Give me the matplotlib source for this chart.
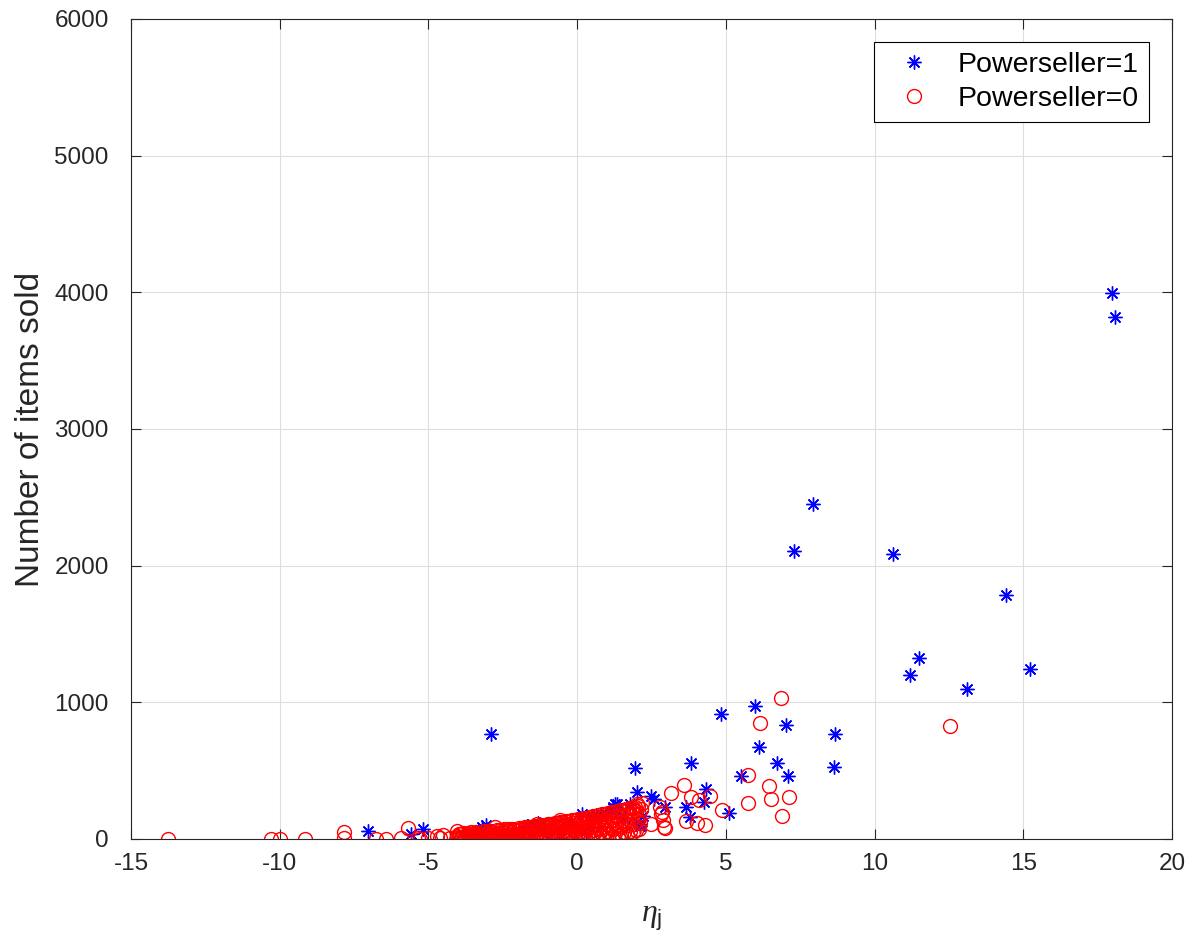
import matplotlib
matplotlib.use("Agg")
import matplotlib.pyplot as plt
import numpy as np

plt.rcParams["font.family"] = ["Liberation Sans", "DejaVu Sans"]
plt.rcParams["mathtext.fontset"] = "custom"
plt.rcParams["mathtext.it"] = "Liberation Serif:italic"
plt.rcParams["mathtext.rm"] = "Liberation Sans"
plt.rcParams["axes.unicode_minus"] = False

# === Powerseller=1 (blue asterisks) ===
eta_ps1 = [17.99, 18.09, 7.92, 7.30, 10.62, 14.43, 11.48, 11.19, 15.23, 13.11,
           5.98, 4.85, 7.02, 8.66, 6.11, 6.72, 8.64, 7.10, 5.50, -2.91,
           1.93, 3.84, 5.10, 4.33, 4.27, 3.66, 3.79, 2.48, 2.22, 2.02,
           2.95, 2.11, 1.35, 1.21, 0.15, 1.27, -1.33, -3.16, -1.65, -0.24,
           0.65, 0.99, 1.30, 2.10, 2.60, 1.77, 1.16, 0.80, 0.50,
           -7.03, -5.57, -5.18, -3.21, -3.05, -1.70, -1.25,
           -2.50, -1.00, 0.30, 0.80, 1.60, -3.60, -0.60]
sold_ps1 = [3994, 3819, 2448, 2110, 2088, 1785, 1327, 1197, 1244, 1100,
            976, 914, 837, 766, 673, 556, 527, 459, 459, 768,
            522, 556, 188, 369, 271, 234, 161, 315, 168, 344,
            234, 93, 259, 234, 186, 254, 117, 76, 93, 124,
            173, 186, 210, 110, 295, 259, 198, 180, 170,
            58, 39, 76, 88, 100, 93, 113,
            30, 50, 60, 90, 150, 20, 40]

# === Powerseller=0 (red circles), sparse tails ===
eta_ps0_tail = [-13.76, -10.28, -10.00, -9.15, -7.85, -7.85, -6.75, -6.41, -5.91, -5.68,
                -5.36, -5.29, -5.00, -4.72, -4.62, -4.51, -4.28, -4.05, -2.75, -1.36,
                -0.97, -0.58,
                2.47, 2.78, 2.84, 2.89, 2.93, 2.95, 2.81, 3.15, 3.58, 3.67,
                3.82, 4.03, 4.11, 4.31, 4.48, 4.86, 5.73, 5.74, 6.16, 6.45,
                6.51, 6.86, 6.90, 7.11, 12.54, 2.17, 2.00, 1.88]
sold_ps0_tail = [3, 3, 3, 3, 51, 5, 2, 2, 4, 78,
                 10, 3, 5, 20, 4, 30, 6, 60, 88, 113,
                 113, 137,
                 113, 234, 198, 137, 88, 83, 181, 336, 395, 132,
                 307, 117, 283, 100, 317, 212, 471, 266, 851, 386,
                 296, 1029, 166, 307, 824, 266, 259, 225]

# === Powerseller=0, dense core (-4 < eta < 2.2) ===
eta_ps0_core = [
    -4.02, -3.98, -4.04, -3.97, -3.91, -3.88, -3.93, -3.86, -3.81, -3.78, -3.83, -3.77,
    -3.72, -3.68, -3.71, -3.66, -3.61, -3.58, -3.63, -3.57, -3.52, -3.48, -3.51, -3.46,
    -3.42, -3.38, -3.41, -3.36, -3.31, -3.28, -3.33, -3.27, -3.22, -3.18, -3.21, -3.16,
    -3.12, -3.08, -3.11, -3.06, -3.02, -2.98, -3.01, -2.96, -2.92, -2.88, -2.91, -2.86,
    -2.82, -2.78, -2.81, -2.76, -2.72, -2.68, -2.71, -2.66, -2.62, -2.58, -2.61, -2.56,
    -2.52, -2.48, -2.51, -2.46, -2.42, -2.38, -2.41, -2.36, -2.32, -2.28, -2.31, -2.26,
    -2.22, -2.18, -2.21, -2.16, -2.12, -2.08, -2.11, -2.06, -2.02, -1.98, -2.01, -1.96,
    -1.92, -1.88, -1.91, -1.86, -1.82, -1.78, -1.81, -1.76, -1.72, -1.68, -1.71, -1.66,
    -1.62, -1.58, -1.61, -1.56, -1.52, -1.48, -1.51, -1.46, -1.42, -1.38, -1.41, -1.36,
    -1.32, -1.28, -1.31, -1.26, -1.22, -1.18, -1.21, -1.16, -1.12, -1.08, -1.11, -1.06,
    -1.02, -0.98, -1.01, -0.96, -0.92, -0.88, -0.91, -0.86, -0.82, -0.78, -0.81, -0.76,
    -0.72, -0.68, -0.71, -0.66, -0.62, -0.58, -0.61, -0.56, -0.52, -0.48, -0.51, -0.46,
    -0.42, -0.38, -0.41, -0.36, -0.32, -0.28, -0.31, -0.26, -0.22, -0.18, -0.21, -0.16,
    -0.12, -0.08, -0.11, -0.06, -0.02, 0.02, -0.01, 0.04, 0.08, 0.12, 0.09, 0.14,
    0.18, 0.22, 0.19, 0.24, 0.28, 0.32, 0.29, 0.34, 0.38, 0.42, 0.39, 0.44,
    0.48, 0.52, 0.49, 0.54, 0.58, 0.62, 0.59, 0.64, 0.68, 0.72, 0.69, 0.74,
    0.78, 0.82, 0.79, 0.84, 0.88, 0.92, 0.89, 0.94, 0.98, 1.02, 0.99, 1.04,
    1.08, 1.12, 1.09, 1.14, 1.18, 1.22, 1.19, 1.24, 1.28, 1.32, 1.29, 1.34,
    1.38, 1.42, 1.39, 1.44, 1.48, 1.52, 1.49, 1.54, 1.58, 1.62, 1.59, 1.64,
    1.68, 1.72, 1.69, 1.74, 1.78, 1.82, 1.79, 1.84, 1.88, 1.92, 1.89, 1.94,
    1.98, 2.02, 1.99, 2.04, 2.08, 2.12, 2.09, 2.14]
sold_ps0_core = [
    3, 12, 25, 40, 5, 18, 33, 8, 2, 15, 42, 25,
    6, 20, 33, 45, 4, 10, 28, 48, 3, 22, 40, 14,
    7, 30, 50, 18, 2, 12, 44, 25, 5, 28, 54, 16,
    9, 35, 56, 22, 3, 18, 44, 60, 6, 25, 62, 38,
    4, 14, 52, 32, 8, 30, 64, 20, 3, 42, 66, 15,
    7, 25, 50, 70, 5, 18, 42, 72, 10, 32, 58, 74,
    4, 22, 50, 76, 8, 40, 64, 28, 3, 15, 55, 80,
    6, 35, 68, 83, 12, 28, 58, 85, 4, 45, 72, 88,
    9, 22, 62, 90, 5, 38, 78, 93, 14, 30, 65, 96,
    6, 48, 82, 99, 10, 25, 70, 102, 4, 42, 88, 105,
    12, 55, 78, 108, 7, 35, 92, 111, 15, 60, 84, 114,
    5, 45, 98, 118, 18, 70, 92, 121, 8, 40, 104, 125,
    20, 65, 95, 128, 6, 50, 110, 132, 25, 75, 104, 136,
    10, 55, 116, 140, 30, 80, 112, 144, 12, 60, 122, 148,
    35, 90, 128, 152, 15, 70, 118, 156, 40, 95, 138, 160,
    18, 65, 128, 165, 45, 100, 142, 170, 20, 75, 132, 175,
    50, 110, 152, 180, 25, 80, 138, 185, 12, 60, 128, 190,
    35, 90, 158, 195, 18, 70, 142, 200, 45, 105, 168, 205,
    25, 80, 152, 210, 35, 95, 178, 215, 50, 120, 168, 220,
    40, 100, 186, 225, 60, 130, 180, 230, 50, 110, 194, 234,
    65, 140, 204, 238, 70, 120, 184, 218]

eta_ps0 = eta_ps0_tail + eta_ps0_core
sold_ps0 = sold_ps0_tail + sold_ps0_core

xticks = [-15, -10, -5, 0, 5, 10, 15, 20]
yticks = [0, 1000, 2000, 3000, 4000, 5000, 6000]

fig = plt.figure(figsize=(12.02, 9.48), dpi=100)
ax = fig.add_axes([0.109, 0.115, 0.866, 0.865])

asterisk = (8, 2, 0)
ax.plot(eta_ps1, sold_ps1, linestyle="none", marker=asterisk, color=(0, 0, 1),
        markersize=10, markeredgewidth=1.0, label="Powerseller=1")
ax.plot(eta_ps0, sold_ps0, linestyle="none", marker="o", markerfacecolor="none",
        markeredgecolor=(1, 0, 0), markersize=10, markeredgewidth=1.0,
        label="Powerseller=0")

ax.set_xlim(-15, 20)
ax.set_ylim(0, 6000)
ax.set_xticks(xticks)
ax.set_yticks(yticks)
ax.grid(True, color="#dedede", linewidth=0.8)
ax.set_axisbelow(True)

dark = "#262626"
for s in ax.spines.values():
    s.set_color(dark)
    s.set_linewidth(0.8)
ax.tick_params(direction="in", length=7, width=0.8, colors=dark, labelsize=17.5,
               top=True, right=True)
ax.tick_params(axis="x", pad=10)
ax.tick_params(axis="y", pad=16)

ax.set_xlabel(r"$\mathit{\eta}_{\mathrm{j}}$", fontsize=23, color=dark, labelpad=20)
ax.set_ylabel("Number of items sold", fontsize=24, color=dark, labelpad=6)

leg = ax.legend(loc="upper right", fontsize=20.5, fancybox=False, edgecolor="black",
                framealpha=1, borderaxespad=0.8, handlelength=2.1, handletextpad=0.5,
                borderpad=0.35, labelspacing=0.3)
leg.get_frame().set_linewidth(0.8)

plt.savefig("out.png", dpi=100)
